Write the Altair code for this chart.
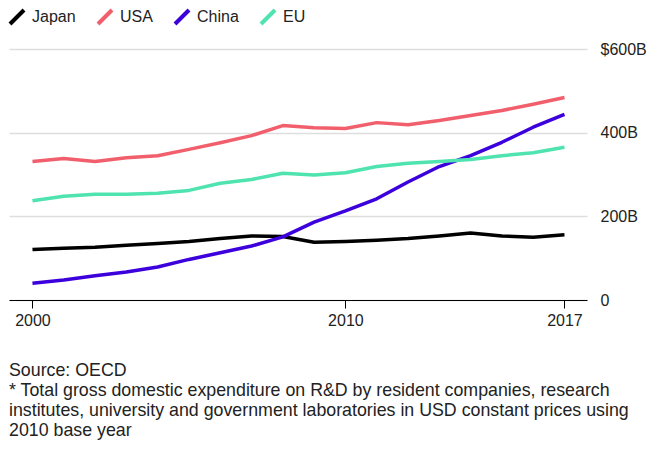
import altair as alt
import pandas as pd

years = list(range(2000, 2018))
japan = [121, 124, 126, 131, 135, 140, 147, 153, 152, 138, 140, 143, 147, 153, 160, 153, 150, 156]
usa = [331, 338, 331, 340, 345, 360, 376, 393, 417, 412, 410, 424, 419, 429, 441, 453, 468, 484]
china = [40, 48, 58, 67, 79, 97, 113, 129, 151, 186, 213, 242, 282, 319, 345, 377, 413, 444]
eu = [237, 248, 253, 253, 255, 262, 279, 288, 303, 299, 304, 319, 327, 331, 336, 345, 352, 365]

series = ["Japan", "USA", "China", "EU"]
colors = ["#000000", "#f25f6c", "#3c00dc", "#4fe3b0"]

rows = []
for name, vals in zip(series, [japan, usa, china, eu]):
    for y, v in zip(years, vals):
        rows.append({"year": y, "value": v, "country": name})
df = pd.DataFrame(rows)

caption = [
    "Source: OECD",
    "* Total gross domestic expenditure on R&D by resident companies, research",
    "institutes, university and government laboratories in USD constant prices using",
    "2010 base year",
]

chart = alt.Chart(df).mark_line(strokeWidth=3.5, strokeJoin="round").encode(
    x=alt.X("year:Q",
            scale=alt.Scale(domain=[1999.25, 2017.72], nice=False, zero=False),
            axis=alt.Axis(values=[2000, 2010, 2017], format="d", title=None,
                          grid=False, domainColor="#000000", domainWidth=1,
                          tickColor="#000000", tickSize=8, tickWidth=1,
                          labelFontSize=16, labelColor="#222222", labelPadding=4,
                          zindex=1)),
    y=alt.Y("value:Q",
            scale=alt.Scale(domain=[0, 600], nice=False),
            axis=alt.Axis(orient="right", values=[0, 200, 400, 600], title=None,
                          domain=False, ticks=False, grid=True,
                          gridColor="#dedede", gridWidth=1.5,
                          labelExpr="datum.value == 600 ? '$600B' : (datum.value == 0 ? '0' : datum.value + 'B')",
                          labelFontSize=16, labelColor="#222222", labelPadding=13,
                          labelAlign="left", labelBaseline="middle")),
    color=alt.Color("country:N",
                    scale=alt.Scale(domain=series, range=colors),
                    sort=series,
                    legend=alt.Legend(title=None, orient="none", direction="horizontal",
                                      legendX=-1, legendY=-41,
                                      symbolType="M-1,1L1,-1", symbolSize=196,
                                      symbolStrokeWidth=4, symbolFillColor="transparent",
                                      labelFontSize=16, labelColor="#222222",
                                      labelOffset=6, columnPadding=14)),
    order=alt.Order("year:Q"),
).properties(
    width=578,
    height=251,
    padding={"left": 0, "top": 0, "right": 0, "bottom": 0},
    title=alt.TitleParams(text=caption, orient="bottom", anchor="start",
                          fontSize=17.8, fontWeight="normal", color="#222222",
                          lineHeight=20, offset=34, frame="group"),
).configure(
    font="Liberation Sans"
).configure_view(
    stroke=None
)

chart.save("out.html", embed_options={"renderer": "svg", "actions": False})
